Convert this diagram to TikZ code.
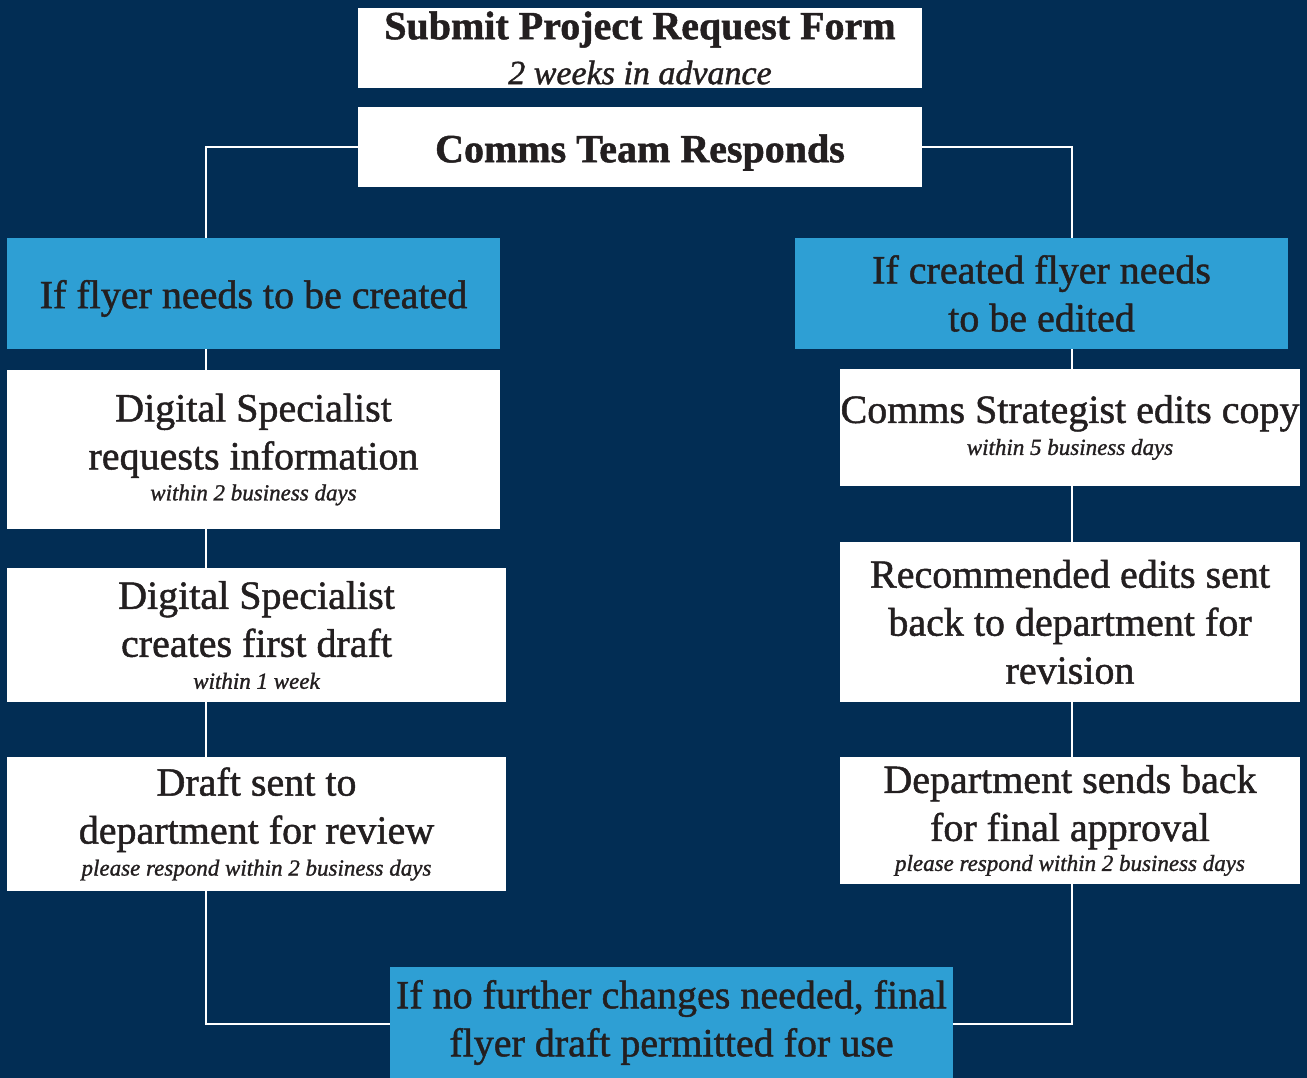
\documentclass[tikz,border=0pt]{standalone}
\usepackage{fontspec}
\setmainfont{Liberation Serif}[FakeBold=1.2]
\usepackage{tikz}

\definecolor{navy}{HTML}{022D54}
\definecolor{sky}{HTML}{2E9FD4}
\definecolor{ink}{HTML}{231F20}

\newcommand{\note}[1]{{\fontsize{23}{26}\selectfont\itshape #1}}

\begin{document}
\begin{tikzpicture}[x=1pt,y=-1pt]
		\tikzset{
			wbox/.style={
				fill=white, text=ink, inner sep=0pt, align=center,
				font=\fontsize{40}{48}\selectfont
			},
			bbox/.style={
				wbox, fill=sky
			},
			link/.style={
				draw=white, line width=2.2pt
			}
		}
		
		\fill [navy] (0,0) rectangle (1307,1078);
		\useasboundingbox (0,0) rectangle (1307,1078);
		
		% top of the chart
		\node [wbox, minimum width=564pt, minimum height=80pt] (submit) at (640,48)
			{\textbf{Submit Project Request Form}\\[-3pt]{\fontsize{34}{36}\selectfont\itshape 2 weeks in advance}};
		\node [wbox, minimum width=564pt, minimum height=80pt, text height=39pt] (comms) at (640,147)
			{\textbf{Comms Team Responds}};
		
		% left column
		\node [bbox, minimum width=493pt, minimum height=111pt, text height=38pt] (create) at (253.5,293.5)
			{If flyer needs to be created};
		\node [wbox, minimum width=493pt, minimum height=159pt] (dsreq) at (253.5,449.5)
			{Digital Specialist\\requests information\\[-17pt]\note{within 2 business days}};
		\node [wbox, minimum width=499pt, minimum height=134pt] (dsdraft) at (256.5,635)
			{Digital Specialist\\creates first draft\\[-16pt]\note{within 1 week}};
		\node [wbox, minimum width=499pt, minimum height=134pt] (draft) at (256.5,824)
			{Draft sent to\\department for review\\[-16pt]\note{please respond within 2 business days}};
		
		% right column
		\node [bbox, minimum width=493pt, minimum height=111pt] (edit) at (1041.5,293.5)
			{If created flyer needs\\to be edited};
		\node [wbox, minimum width=460pt, minimum height=117pt] (strat) at (1070,427.5)
			{Comms Strategist edits copy\\[-16pt]\note{within 5 business days}};
		\node [wbox, minimum width=460pt, minimum height=160pt] (recom) at (1070,622)
			{Recommended edits sent\\back to department for\\revision};
		\node [wbox, minimum width=460pt, minimum height=127pt] (dept) at (1070,820.5)
			{Department sends back\\for final approval\\[-18pt]\note{please respond within 2 business days}};
		
		% bottom
		\node [bbox, minimum width=563pt, minimum height=111pt] (final) at (671.5,1022.5)
			{If no further changes needed, final\\flyer draft permitted for use};
		
		\coordinate (lt) at (206,147);
		\coordinate (lb) at (206,1024);
		\coordinate (rt) at (1072,147);
		\coordinate (rb) at (1072,1024);
		
		\draw [link] (comms.west) -- (lt) -- (lt |- create.north);
		\draw [link] (comms.east) -- (rt) -- (rt |- edit.north);
		\foreach \a/\b in {create/dsreq, dsreq/dsdraft, dsdraft/draft}{
			\draw [link] (lt |- \a.south) -- (lt |- \b.north);
		}
		\foreach \a/\b in {edit/strat, strat/recom, recom/dept}{
			\draw [link] (rt |- \a.south) -- (rt |- \b.north);
		}
		\draw [link] (lt |- draft.south) -- (lb) -- (final.west |- lb);
		\draw [link] (rt |- dept.south) -- (rb) -- (final.east |- rb);
\end{tikzpicture}
\end{document}
